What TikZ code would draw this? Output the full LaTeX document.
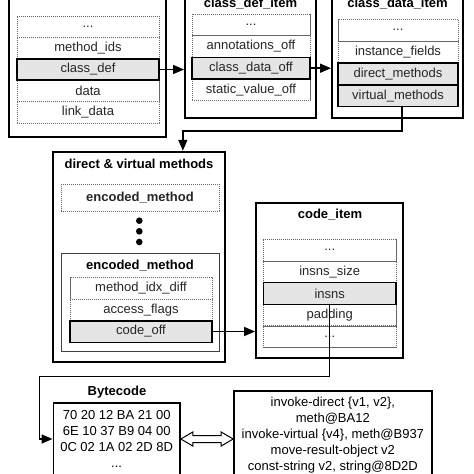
\documentclass[tikz,border=0pt]{standalone}
\usepackage{fontspec}
\setmainfont{Liberation Sans}
\usetikzlibrary{arrows.meta,calc}
\begin{document}
\begin{tikzpicture}[x=1pt,y=-1pt,
  outer/.style={draw, line width=1.9pt, inner sep=0pt},
  row/.style={draw=black!60, dash pattern=on 1.2pt off 0.8pt, line width=0.7pt, inner sep=0pt, font=\fontsize{13}{15}\selectfont, text=black!85},
  hl/.style={draw=black, solid, line width=1.6pt, fill=black!10},
  ttl/.style={font=\fontsize{13}{15}\selectfont\bfseries, inner sep=0pt},
  conn/.style={line width=1.5pt, -{Triangle[length=11pt,width=9pt]}},
  txt/.style={draw, line width=1.6pt, inner sep=0pt, font=\fontsize{13}{16}\selectfont, align=center}]
\useasboundingbox (0,0) rectangle (474,474);
\clip (0,0) rectangle (474,474);

% top-left box
\node[outer, minimum width=157, minimum height=177] (dex) at (87.5,48.5) {};
\node[row, minimum width=142, minimum height=21.4] (d1) at (88,26.7) {...};
\node[row, minimum width=142, minimum height=21.4] (mids) at (88,48.1) {method\_ids};
\node[row, minimum width=142, minimum height=21.4] (data) at (88,90.9) {data};
\node[row, minimum width=142, minimum height=21.4] (link) at (88,112.3) {link\_data};
\node[row, hl, minimum width=142, minimum height=21.4] (cdef) at (88,69.5) {class\_def};

% class_def_item
\node[outer, minimum width=131, minimum height=143] (mid) at (250.5,46.5) {};
\node[ttl, anchor=base] (midt) at (250.5,7) {class\_def\_item};
\node[row, minimum width=118, minimum height=21.7] (m1) at (251,24.8) {...};
\node[row, minimum width=118, minimum height=21.7] (anno) at (251,46.5) {annotations\_off};
\node[row, minimum width=118, minimum height=21.7] (stat) at (251,89.8) {static\_value\_off};
\node[row, hl, minimum width=118, minimum height=21.7] (cdo) at (251,68.2) {class\_data\_off};

% class_data_item
\node[outer, minimum width=131, minimum height=143] (rgt) at (397.5,46.5) {};
\node[ttl, anchor=base] (rgtt) at (397.5,7) {class\_data\_item};
\node[row, minimum width=120, minimum height=21.8] (r1) at (398,30.2) {...};
\node[row, minimum width=120, minimum height=21.8] (inst) at (398,52) {instance\_fields};
\node[row, hl, minimum width=120, minimum height=21.8] (dm) at (398,73.8) {direct\_methods};
\node[row, hl, minimum width=120, minimum height=21.8] (vm) at (398,95.6) {virtual\_methods};

\draw[conn] (cdef.east) -- (mid.west |- cdef.east);
\draw[conn] (cdo.east) -- (rgt.west |- cdo.east);

% direct & virtual methods
\node[outer, minimum width=172.3, minimum height=210.6] (dv) at (138.85,257) {};
\node[ttl] (dvt) at (139,164.3) {direct \& virtual methods};
\node[row, font=\fontsize{13}{15}\selectfont\bfseries, minimum width=158, minimum height=26.7] (em1) at (140,197.7) {encoded\_method};
\fill (139.3,220.7) circle (3.3);
\fill (139.3,231.3) circle (3.3);
\fill (139.3,242) circle (3.3);
\node[draw=black!75, line width=0.9pt, minimum width=158, minimum height=97.7, inner sep=0pt] (em2) at (140,302.2) {};
\node[ttl] (em2t) at (140,266) {encoded\_method};
\node[row, minimum width=142, minimum height=22] (midx) at (141,288.3) {method\_idx\_diff};
\node[row, minimum width=142, minimum height=21.4] (acc) at (141,310) {access\_flags};
\node[row, hl, minimum width=142, minimum height=21.6] (coff) at (141,331.5) {code\_off};

% code_item
\node[outer, minimum width=147, minimum height=155.6] (ci) at (329.5,280.5) {};
\node[ttl] (cit) at (330,215) {code\_item};
\node[row, minimum width=132.7, minimum height=21.7] (c1) at (329.7,250) {...};
\node[row, minimum width=132.7, minimum height=21.7] (isz) at (329.7,271.8) {insns\_size};
\node[row, minimum width=132.7, minimum height=21.7] (pad) at (329.7,315) {padding};
\node[row, minimum width=132.7, minimum height=21.7] (c2) at (329.7,336.5) {...};
\node[row, hl, minimum width=132.7, minimum height=21.7] (insns) at (329.7,293.5) {insns};

\draw[conn] (coff.east) -- (ci.west |- coff.east);
\draw[conn] ([xshift=4pt]vm.south) |- ([xshift=44pt,yshift=20pt]dv.north) -- ([xshift=44pt]dv.north);

% bytecode
\node[ttl] (bct) at (117,391.7) {Bytecode};
\node[txt, minimum width=126.7, minimum height=72.6, font=\fontsize{13}{15.7}\selectfont] (bc) at (116.65,439) {70 20 12 BA 21 00\\6E 10 37 B9 04 00\\0C 02 1A 02 2D 8D\\...};
\node[txt, minimum width=197.7, minimum height=88.6] (cd) at (332.85,435) {invoke-direct \{v1, v2\},\\meth@BA12\\invoke-virtual \{v4\}, meth@B937\\move-result-object v2\\const-string v2, string@8D2D};

\draw[conn] (insns.south) |- (39.3,376.7) |- (bc.west);

\draw[line width=1pt, fill=white] (bc.east) -- ++(12,-7) -- ++(0,3.5) -- ($(cd.west |- bc.east)+(-12,-3.5)$) -- ++(0,-3.5) -- (cd.west |- bc.east) -- ++(-12,7) -- ++(0,-3.5) -- ($(bc.east)+(12,3.5)$) -- ++(0,3.5) -- cycle;
\end{tikzpicture}
\end{document}
